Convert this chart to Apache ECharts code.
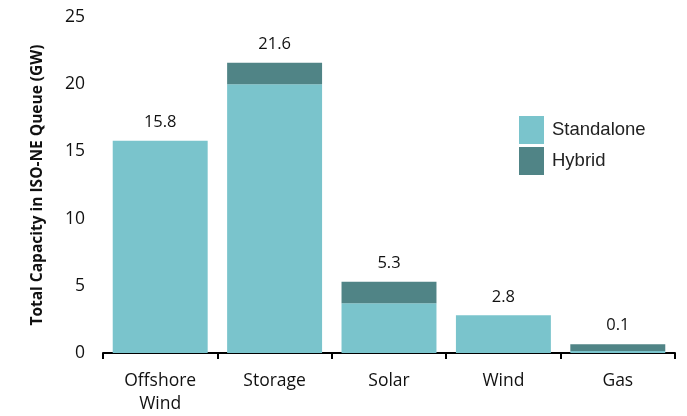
<!DOCTYPE html>
<html><head><meta charset="utf-8">
<script src="https://cdn.jsdelivr.net/npm/echarts@6/dist/echarts.min.js"></script>
<style>html,body{margin:0;padding:0;background:#fff}#c{width:687px;height:416px}</style>
</head><body><div id="c"></div>
<script>
const categories = ["Offshore\nWind", "Storage", "Solar", "Wind", "Gas"];
const standalone = [15.8, 20.0, 3.7, 2.8, 0.15];
const hybrid = [0, 1.6, 1.6, 0, 0.5];
const totalLabels = ["15.8", "21.6", "5.3", "2.8", "0.1"];
const yTicks = [0, 5, 10, 15, 20, 25];

const chart = echarts.init(document.getElementById('c'));
const font = "'Open Sans', 'Noto Sans', sans-serif";
chart.setOption({
  animation: false,
  grid: {left: 103, right: 12, top: 17, bottom: 63},
  legend: {
    orient: 'vertical', left: 514, top: 111,
    itemWidth: 25, itemHeight: 28, itemGap: 3,
    textStyle: {fontFamily: "'Liberation Sans', Arial, sans-serif", fontSize: 18.5, color: '#222', padding: [0,0,0,3]},
    data: [{name: 'Standalone', icon: 'rect'}, {name: 'Hybrid', icon: 'rect'}]
  },
  xAxis: {
    type: 'category', data: categories,
    axisLine: {lineStyle: {color: '#000', width: 2}},
    axisTick: {show: true, length: 6, lineStyle: {color: '#000', width: 2}},
    axisLabel: {fontFamily: font, fontSize: 17.5, color: '#111', margin: 17, lineHeight: 23}
  },
  yAxis: {
    type: 'value', min: yTicks[0], max: yTicks[yTicks.length-1], interval: 5,
    name: 'Total Capacity in ISO-NE Queue (GW)', nameLocation: 'middle', nameGap: 57,
    nameTextStyle: {fontFamily: font, fontSize: 15.5, fontWeight: 'bold', color: '#111'},
    axisLine: {show: false}, axisTick: {show: false},
    splitLine: {show: false},
    axisLabel: {fontFamily: font, fontSize: 17.5, color: '#111', margin: 18}
  },
  series: [
    {name: 'Standalone', type: 'bar', stack: 'a', data: standalone, barCategoryGap: '17%',
     itemStyle: {color: '#7AC4CC'}},
    {name: 'Hybrid', type: 'bar', stack: 'a', data: hybrid,
     itemStyle: {color: '#508486'},
     label: {show: true, position: 'top', distance: 10, fontFamily: font, fontSize: 16.5, color: '#111',
       formatter: p => totalLabels[p.dataIndex]}}
  ]
});
</script></body></html>
